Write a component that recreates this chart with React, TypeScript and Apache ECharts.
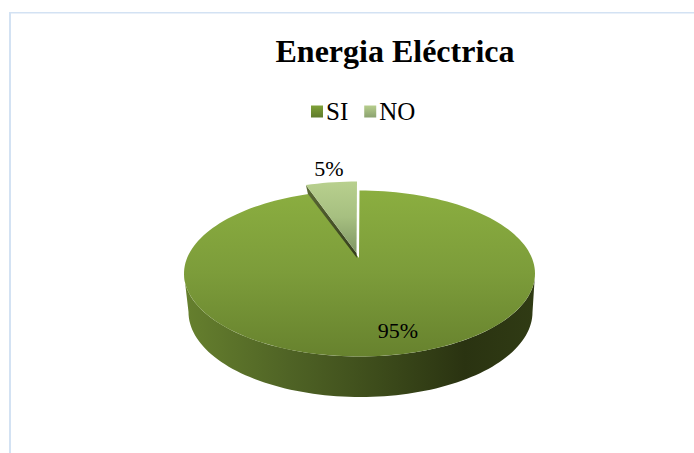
import React, { useEffect, useRef } from "react";
import * as echarts from "echarts";

const categories = ["SI", "NO"];
const seriesValues = [95, 5];
const titleText = "Energia Eléctrica";

const FONT = "'Liberation Serif', 'Times New Roman', serif";
const TOP = { cx: 359.5, cy: 273.5, rx: 175.5, ry: 83 };
const BOTTOM = { cx: 360.5, cy: 312, rx: 172, ry: 85 };
const APEX = { x: 359, y: 258 };
const EXPLODE = { arcX: -2.5, arcY: -9, apexX: -2.5, apexY: -5 };
const PERSPECTIVE = 0.94;
const total = seriesValues.reduce((a, b) => a + b, 0);
const noSweep = (seriesValues[1] / total) * 360 * PERSPECTIVE;

const linear = (x0: number, y0: number, x1: number, y1: number, stops: [number, string][]) =>
  new echarts.graphic.LinearGradient(x0, y0, x1, y1, stops.map(([offset, color]) => ({ offset, color })));

function arcPoints(e: typeof TOP, fromDeg: number, toDeg: number, dx = 0, dy = 0) {
  const n = Math.max(4, Math.ceil(Math.abs(toDeg - fromDeg) / 2));
  const pts: number[][] = [];
  for (let i = 0; i <= n; i++) {
    const t = ((fromDeg + ((toDeg - fromDeg) * i) / n) * Math.PI) / 180;
    pts.push([e.cx + dx + e.rx * Math.sin(t), e.cy + dy - e.ry * Math.cos(t)]);
  }
  return pts;
}

function renderSI(_params: any, api: any) {
  const value = api.value(0);
  const wall = [...arcPoints(TOP, 90, 270), ...arcPoints(BOTTOM, 270, 90)];
  const face = [[APEX.x, APEX.y], ...arcPoints(TOP, 0, 360 - noSweep)];
  return {
    type: "group",
    children: [
      {
        type: "polygon",
        shape: { points: wall },
        style: {
          fill: linear(0, 0, 1, 0, [
            [0, "#66802e"],
            [0.3, "#4f6325"],
            [0.55, "#3d4c1b"],
            [0.8, "#2a3311"],
            [1, "#303b14"],
          ]),
        },
      },
      {
        type: "polygon",
        shape: { points: face },
        style: {
          fill: linear(0, 0, 0, 1, [
            [0, "#8bae40"],
            [0.5, "#7c9c3a"],
            [1, "#67822e"],
          ]),
        },
      },
      {
        type: "text",
        style: {
          text: `${value}%`,
          x: 398,
          y: 330,
          align: "center",
          verticalAlign: "middle",
          font: `22px ${FONT}`,
          fill: "#000",
        },
      },
    ],
  };
}

function renderNO(_params: any, api: any) {
  const value = api.value(0);
  const arc = arcPoints(TOP, 360 - noSweep, 360, EXPLODE.arcX, EXPLODE.arcY);
  const apex = [APEX.x + EXPLODE.apexX, APEX.y + EXPLODE.apexY];
  const left = arc[0];
  return {
    type: "group",
    children: [
      {
        type: "polygon",
        shape: { points: [left, apex, [apex[0] + 0.5, apex[1] + 5], [left[0] + 2, left[1] + 9]] },
        style: {
          fill: linear(0, 0, 0, 1, [
            [0, "#5c6b35"],
            [1, "#333c1c"],
          ]),
        },
      },
      {
        type: "polygon",
        shape: { points: [apex, ...arc] },
        style: {
          fill: linear(0, 0, 0, 1, [
            [0, "#b8d08e"],
            [0.5, "#a6bf80"],
            [1, "#7f9664"],
          ]),
        },
      },
      {
        type: "text",
        style: {
          text: `${value}%`,
          x: 329,
          y: 168,
          align: "center",
          verticalAlign: "middle",
          font: `22px ${FONT}`,
          fill: "#000",
        },
      },
    ],
  };
}

export default function App() {
  const ref = useRef<HTMLDivElement>(null);
  useEffect(() => {
    document.body.style.margin = "0";
    const chart = echarts.init(ref.current!, undefined, { renderer: "svg" });
    chart.setOption({
      animation: false,
      backgroundColor: "#ffffff",
      title: {
        text: titleText,
        left: 390,
        top: 30,
        textAlign: "center",
        textStyle: { fontFamily: FONT, fontSize: 32, fontWeight: "bold", color: "#000" },
      },
      legend: {
        left: 306,
        top: 94,
        itemWidth: 12,
        itemHeight: 12,
        itemGap: 16,
        textStyle: { fontFamily: FONT, fontSize: 25, color: "#000", padding: [0, 0, 0, -2] },
        data: [
          {
            name: categories[0],
            icon: "rect",
            itemStyle: {
              color: linear(0, 0, 0, 1, [
                [0, "#7fa138"],
                [1, "#5f7b2b"],
              ]),
            },
          },
          {
            name: categories[1],
            icon: "rect",
            itemStyle: {
              color: linear(0, 0, 0, 1, [
                [0, "#b6cd8c"],
                [1, "#8ba26f"],
              ]),
            },
          },
        ],
      },
      graphic: [
        { type: "rect", shape: { x: 9, y: 12, width: 2, height: 441 }, style: { fill: "#d3e2f3" } },
        { type: "rect", shape: { x: 9, y: 12, width: 685, height: 1.5 }, style: { fill: "#d3e2f3" } },
      ],
      series: [
        {
          type: "custom",
          name: categories[0],
          coordinateSystem: "none",
          renderItem: renderSI,
          data: [[seriesValues[0]]],
          itemStyle: { color: "#7fa138" },
        },
        {
          type: "custom",
          name: categories[1],
          coordinateSystem: "none",
          renderItem: renderNO,
          data: [[seriesValues[1]]],
          itemStyle: { color: "#b6cd8c" },
        },
      ],
    });
    return () => chart.dispose();
  }, []);
  return <div ref={ref} style={{ width: 694, height: 453 }} />;
}
